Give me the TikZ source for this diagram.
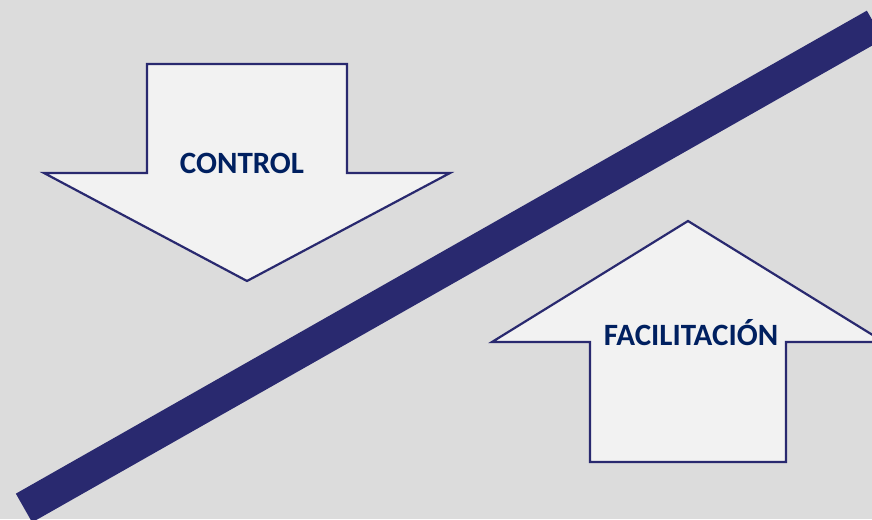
\documentclass[tikz,border=0pt]{standalone}
\usepackage{fontspec}
\setmainfont{Carlito}
\definecolor{fondo}{HTML}{DCDCDC}
\definecolor{marino}{HTML}{29296F}
\definecolor{relleno}{HTML}{F2F2F2}
\definecolor{texto}{HTML}{002060}
% block arrow: centre x, end of shaft, base of head, tip, half shaft, half head
\newcommand{\flechaP}[6]{
	\draw [flecha](#1-#5,#2) -- (#1+#5,#2) -- (#1+#5,#3) -- (#1+#6,#3)
		-- (#1,#4) -- (#1-#6,#3) -- (#1-#5,#3) -- cycle;
	}
\begin{document}
\begin{tikzpicture}[
      x=1pt, y=-1pt, %one unit is one pixel
      flecha/.style={draw=marino, fill=relleno, line width=2.2pt, line join=miter},
      barra/.style={draw=marino, line width=33pt},
      rotulo/.style={font=\bfseries\fontsize{31}{36}\selectfont, text=texto, anchor=base}
    ]
    % background
    \fill[fondo] (0,0) rectangle (872,519);
    \useasboundingbox (0,0) rectangle (872,519);
    \clip (0,0) rectangle (872,519);
    % the two arrows
    \flechaP{247}{64}{173}{281}{100}{203};
    \flechaP{688}{462}{342}{221}{98}{196};
    % the dividing bar
    \coordinate (bajo) at (24,508);
    \coordinate (alto) at (875,25);
    \draw[barra] (bajo) -- (alto);
    % labels
    \node[rotulo] (control) at (242,173) {CONTROL};
    \node[rotulo] (facilitacion) at (691,345) {FACILITACIÓN};
\end{tikzpicture}
\end{document}
